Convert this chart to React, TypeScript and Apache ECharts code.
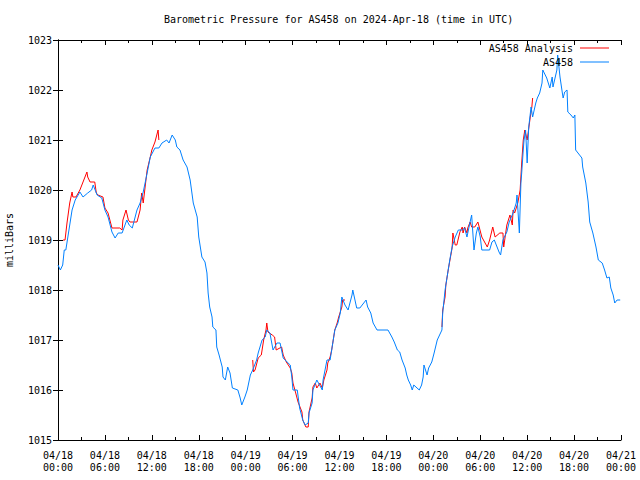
import React, { useEffect, useRef } from "react";
import * as echarts from "echarts";

// Hours since 2024-04-18 00:00 UTC
const blueHours = [
  0.0, 0.3, 0.6, 0.8, 1.0, 1.3, 1.5, 1.8, 2.2, 2.8, 3.2, 3.8, 4.3, 4.5, 5.0, 5.6, 6.0, 6.4, 6.9, 7.3,
  7.7, 8.2, 8.8, 9.1, 9.5, 10.1, 10.5, 10.9, 11.4, 11.8, 12.4, 12.9, 13.3, 13.9, 14.2, 14.6, 15.0, 15.2, 15.6, 16.0,
  16.5, 16.9, 17.3, 17.8, 18.0, 18.4, 18.8, 19.05, 19.2, 19.4, 19.7, 19.8, 20.2, 20.3, 20.6, 21.0, 21.1, 21.4, 21.7, 22.0,
  22.3, 23.0, 23.3, 23.5, 23.9, 24.2, 24.6, 24.9, 25.4, 25.6, 26.1, 26.5, 26.7, 27.1, 27.5, 28.0, 28.4, 28.8, 29.3, 29.7,
  29.9, 30.05, 30.6, 30.9, 31.3, 31.6, 32.0, 32.1, 32.5, 32.6, 33.1, 33.8, 33.9, 34.4, 34.8, 35.2, 35.4, 35.8, 36.1, 36.3,
  36.7, 37.1, 37.6, 37.7, 38.2, 38.6, 38.9, 39.4, 39.6, 40.0, 40.3, 40.8, 42.2, 42.7, 43.0, 43.4, 43.7, 44.0, 44.4, 44.6,
  44.8, 45.1, 45.3, 45.5, 46.2, 46.5, 46.7, 46.8, 47.2, 47.4, 47.8, 48.1, 48.5, 49.1, 49.2, 49.5, 49.7, 49.9, 50.1, 50.4,
  50.8, 51.2, 51.7, 52.0, 52.3, 52.7, 52.9, 53.2, 53.5, 53.7, 54.0, 54.2, 55.2, 55.5, 55.8, 56.4, 56.6, 56.9, 57.4, 57.7,
  58.2, 58.6, 58.7, 59.0, 59.2, 59.3, 59.5, 59.6, 59.8, 60.0, 60.2, 60.5, 60.7, 61.1, 61.3, 61.6, 61.9, 62.0, 62.5, 62.9,
  63.2, 63.3, 63.8, 63.9, 64.2, 64.5, 64.6, 64.8, 65.1, 65.2, 65.6, 65.9, 66.1, 66.2, 66.5, 67.0, 67.1, 67.5, 67.8, 68.0,
  68.4, 68.8, 69.1, 69.6, 69.9, 70.2, 70.5, 70.7, 71.0, 71.2, 71.5, 71.9,
];
const bluePressure = [
  1018.5, 1018.4, 1018.5, 1018.8, 1018.8, 1019.1, 1019.3, 1019.6, 1019.8, 1019.96, 1019.86, 1019.94, 1020.0, 1020.1, 1019.9, 1019.84, 1019.6, 1019.46, 1019.16, 1019.04,
  1019.14, 1019.14, 1019.4, 1019.3, 1019.24, 1019.6, 1019.74, 1019.96, 1020.34, 1020.66, 1020.84, 1020.84, 1020.94, 1021.0, 1020.94, 1021.1, 1021.0, 1020.86, 1020.8, 1020.6,
  1020.46, 1020.2, 1019.74, 1019.46, 1019.06, 1018.66, 1018.56, 1018.34, 1017.94, 1017.66, 1017.46, 1017.26, 1017.2, 1016.86, 1016.7, 1016.46, 1016.26, 1016.2, 1016.46, 1016.34,
  1016.04, 1016.0, 1015.84, 1015.7, 1015.86, 1016.0, 1016.3, 1016.4, 1016.6, 1016.74, 1017.0, 1017.06, 1017.2, 1017.14, 1016.8, 1016.94, 1016.94, 1016.64, 1016.56, 1016.5,
  1016.26, 1016.0, 1016.0, 1015.64, 1015.4, 1015.3, 1015.34, 1015.54, 1015.74, 1016.0, 1016.2, 1016.0, 1016.2, 1016.6, 1016.6, 1017.0, 1017.2, 1017.34, 1017.54, 1017.86,
  1017.7, 1017.6, 1017.9, 1018.0, 1017.64, 1017.64, 1017.7, 1017.8, 1017.66, 1017.54, 1017.34, 1017.2, 1017.2, 1017.06, 1016.96, 1016.8, 1016.76, 1016.6, 1016.44, 1016.3,
  1016.2, 1016.1, 1016.0, 1016.1, 1016.0, 1016.1, 1016.26, 1016.5, 1016.3, 1016.44, 1016.56, 1016.74, 1017.0, 1017.2, 1017.54, 1018.0, 1018.2, 1018.4, 1018.6, 1018.86,
  1019.06, 1019.2, 1019.2, 1019.24, 1019.06, 1019.36, 1019.5, 1018.8, 1019.14, 1019.26, 1019.06, 1018.8, 1018.8, 1018.96, 1019.0, 1018.76, 1018.7, 1019.0, 1019.16, 1019.36,
  1019.54, 1019.74, 1019.9, 1019.14, 1020.14, 1020.34, 1020.8, 1021.0, 1021.2, 1020.54, 1021.26, 1021.66, 1021.46, 1021.74, 1021.84, 1021.94, 1022.14, 1022.4, 1022.24, 1022.04,
  1022.26, 1022.06, 1022.4, 1022.7, 1022.26, 1021.94, 1021.84, 1021.96, 1022.0, 1021.56, 1021.5, 1021.44, 1021.5, 1020.8, 1020.74, 1020.64, 1020.46, 1020.14, 1019.76, 1019.36,
  1019.14, 1018.86, 1018.6, 1018.54, 1018.4, 1018.24, 1018.26, 1018.04, 1017.9, 1017.74, 1017.8, 1017.8,
];

// Analysis series; null marks a gap between analysis segments
const analysisHours = [
  0.64, 0.9, 1.15, 1.5, 1.8, 1.9, 2.3, 2.8, 3.2, 3.7, 3.8, 4.1, 4.7, 4.9, 5.1, 5.75, 6.0, 6.4, 6.9, 7.9,
  8.2, 8.3, 8.7, 9.0, 9.2, 10.1, 10.5, 10.7, 10.9, 11.4, 11.8, 12.0, 12.4, 12.7, 12.8, 12.9,
  13.0,
  24.9, 25.0, 25.2, 25.6, 26.0, 26.3, 26.6, 26.7, 26.85, 27.4, 27.7, 27.9, 28.6, 28.8, 29.2, 29.7, 29.9, 30.05, 30.4, 30.7,
  31.2, 31.3, 31.7, 32.0, 32.1, 32.5, 32.6, 32.9, 33.1, 33.5, 33.8, 34.0, 34.4, 34.5, 34.8, 35.0, 35.4, 35.7, 35.9, 36.3,
  36.4, 36.7,
  37.0,
  49.1, 49.2, 49.5, 49.6, 49.9, 50.4, 50.5, 50.8, 51.0, 51.4, 51.7, 51.8, 52.0, 52.3, 52.4, 52.7, 52.9, 53.3, 53.7, 54.2,
  54.9, 55.2, 55.6, 55.9, 56.5, 56.9, 57.0, 57.4, 57.8, 58.1, 58.2, 58.4, 58.8, 59.1, 59.3, 59.5, 59.7, 60.0, 60.4, 60.6,
  60.7,
];
const analysisPressure = [
  1019.0, 1019.0, 1019.34, 1019.74, 1019.96, 1019.86, 1019.86, 1020.0, 1020.16, 1020.36, 1020.26, 1020.16, 1020.16, 1019.94, 1019.9, 1019.86, 1019.64, 1019.54, 1019.24, 1019.24,
  1019.2, 1019.4, 1019.6, 1019.4, 1019.36, 1019.36, 1019.6, 1019.94, 1019.74, 1020.4, 1020.66, 1020.8, 1020.96, 1021.14, 1021.2, 1021.0,
  null,
  1016.6, 1016.36, 1016.4, 1016.64, 1016.7, 1017.0, 1017.2, 1017.34, 1017.16, 1017.1, 1017.06, 1016.8, 1016.86, 1016.7, 1016.56, 1016.44, 1016.34, 1016.14, 1015.94, 1015.76,
  1015.56, 1015.4, 1015.26, 1015.26, 1015.56, 1015.84, 1016.06, 1016.14, 1016.04, 1016.14, 1016.04, 1016.2, 1016.4, 1016.54, 1016.66, 1016.8, 1017.2, 1017.34, 1017.46, 1017.66,
  1017.8, 1017.8,
  null,
  1017.26, 1017.6, 1017.86, 1018.1, 1018.4, 1018.84, 1019.14, 1018.9, 1018.9, 1019.16, 1019.26, 1019.14, 1019.26, 1019.14, 1019.24, 1019.36, 1019.26, 1019.26, 1019.36, 1019.06,
  1018.86, 1019.0, 1019.26, 1019.06, 1019.14, 1019.14, 1018.86, 1019.3, 1019.5, 1019.3, 1019.6, 1019.54, 1019.74, 1020.0, 1020.54, 1021.0, 1021.2, 1021.0, 1021.46, 1021.66,
  1021.84,
];

const FONT = "'DejaVu Sans Mono', 'Liberation Mono', monospace";

function fmtTime(h: number): string {
  const day = 18 + Math.floor(h / 24);
  const hr = Math.round(h % 24);
  const dd = String(day).padStart(2, "0");
  const hh = String(hr).padStart(2, "0");
  return `04/${dd}\n${hh}:00`;
}

export default function App() {
  const ref = useRef<HTMLDivElement>(null);

  useEffect(() => {
    if (!ref.current) return;
    const chart = echarts.init(ref.current, undefined, { renderer: "svg" });

    const blueData = blueHours.map((h, i) => [h, bluePressure[i]]);
    const redData = analysisHours.map((h, i) => [h, analysisPressure[i] === null ? "-" : analysisPressure[i]]);

    const axisLine = { show: true, lineStyle: { color: "#000", width: 1 } };
    const tick = { show: true, inside: true, length: 5, lineStyle: { color: "#000", width: 1 } };
    const minor = { show: true, splitNumber: 2, length: 3, lineStyle: { color: "#000", width: 1 } };

    chart.setOption({
      animation: false,
      backgroundColor: "#fff",
      textStyle: { fontFamily: FONT },
      title: {
        text: "Barometric Pressure for AS458 on 2024-Apr-18 (time in UTC)",
        left: 164,
        top: 14,
        padding: 0,
        textStyle: { fontFamily: FONT, fontSize: 10, fontWeight: "normal", color: "#000" },
      },
      legend: [
        {
          data: ["AS458 Analysis"],
          right: 31,
          top: 43,
          padding: 0,
          align: "right",
          icon: "rect",
          itemWidth: 29,
          itemHeight: 1,
          textStyle: { fontFamily: FONT, fontSize: 10, color: "#000", padding: [0, 2, 0, 0] },
        },
        {
          data: ["AS458"],
          right: 31,
          top: 57,
          padding: 0,
          align: "right",
          icon: "rect",
          itemWidth: 29,
          itemHeight: 1,
          textStyle: { fontFamily: FONT, fontSize: 10, color: "#000", padding: [0, 2, 0, 0] },
        },
      ],
      grid: { left: 58, right: 19, top: 40, bottom: 40, containLabel: false, outerBoundsMode: "none" },
      xAxis: [
        {
          type: "value",
          min: 0,
          max: 72,
          interval: 6,
          position: "bottom",
          axisLine,
          axisTick: tick,
          minorTick: minor,
          splitLine: { show: false },
          axisLabel: {
            show: true,
            margin: 9,
            fontFamily: FONT,
            fontSize: 10,
            lineHeight: 12,
            color: "#000",
            showMinLabel: true,
            showMaxLabel: true,
            hideOverlap: false,
            formatter: (v: number) => fmtTime(v),
          },
        },
        {
          type: "value",
          min: 0,
          max: 72,
          interval: 6,
          position: "top",
          axisLine,
          axisTick: tick,
          minorTick: minor,
          splitLine: { show: false },
          axisLabel: { show: false },
        },
      ],
      yAxis: [
        {
          type: "value",
          min: 1015,
          max: 1023,
          interval: 1,
          position: "left",
          name: "milliBars",
          nameLocation: "middle",
          nameGap: 44,
          nameRotate: 90,
          nameTextStyle: { fontFamily: FONT, fontSize: 10, color: "#000" },
          axisLine,
          axisTick: tick,
          splitLine: { show: false },
          axisLabel: {
            margin: 6,
            fontFamily: FONT,
            fontSize: 10,
            color: "#000",
            formatter: (v: number) => String(Math.round(v)),
          },
        },
        {
          type: "value",
          min: 1015,
          max: 1023,
          interval: 1,
          position: "right",
          axisLine,
          axisTick: tick,
          splitLine: { show: false },
          axisLabel: { show: false },
        },
      ],
      series: [
        {
          name: "AS458 Analysis",
          type: "line",
          xAxisIndex: 0,
          yAxisIndex: 0,
          data: redData,
          showSymbol: false,
          symbol: "none",
          connectNulls: false,
          color: "#ff0000",
          lineStyle: { color: "#ff0000", width: 1 },
        },
        {
          name: "AS458",
          type: "line",
          xAxisIndex: 0,
          yAxisIndex: 0,
          data: blueData,
          showSymbol: false,
          symbol: "none",
          color: "#0080ff",
          lineStyle: { color: "#0080ff", width: 1 },
        },
      ],
    });

    return () => chart.dispose();
  }, []);

  return (
    <div
      ref={ref}
      style={{ position: "fixed", left: 0, top: 0, width: 640, height: 480, background: "#fff" }}
    />
  );
}
